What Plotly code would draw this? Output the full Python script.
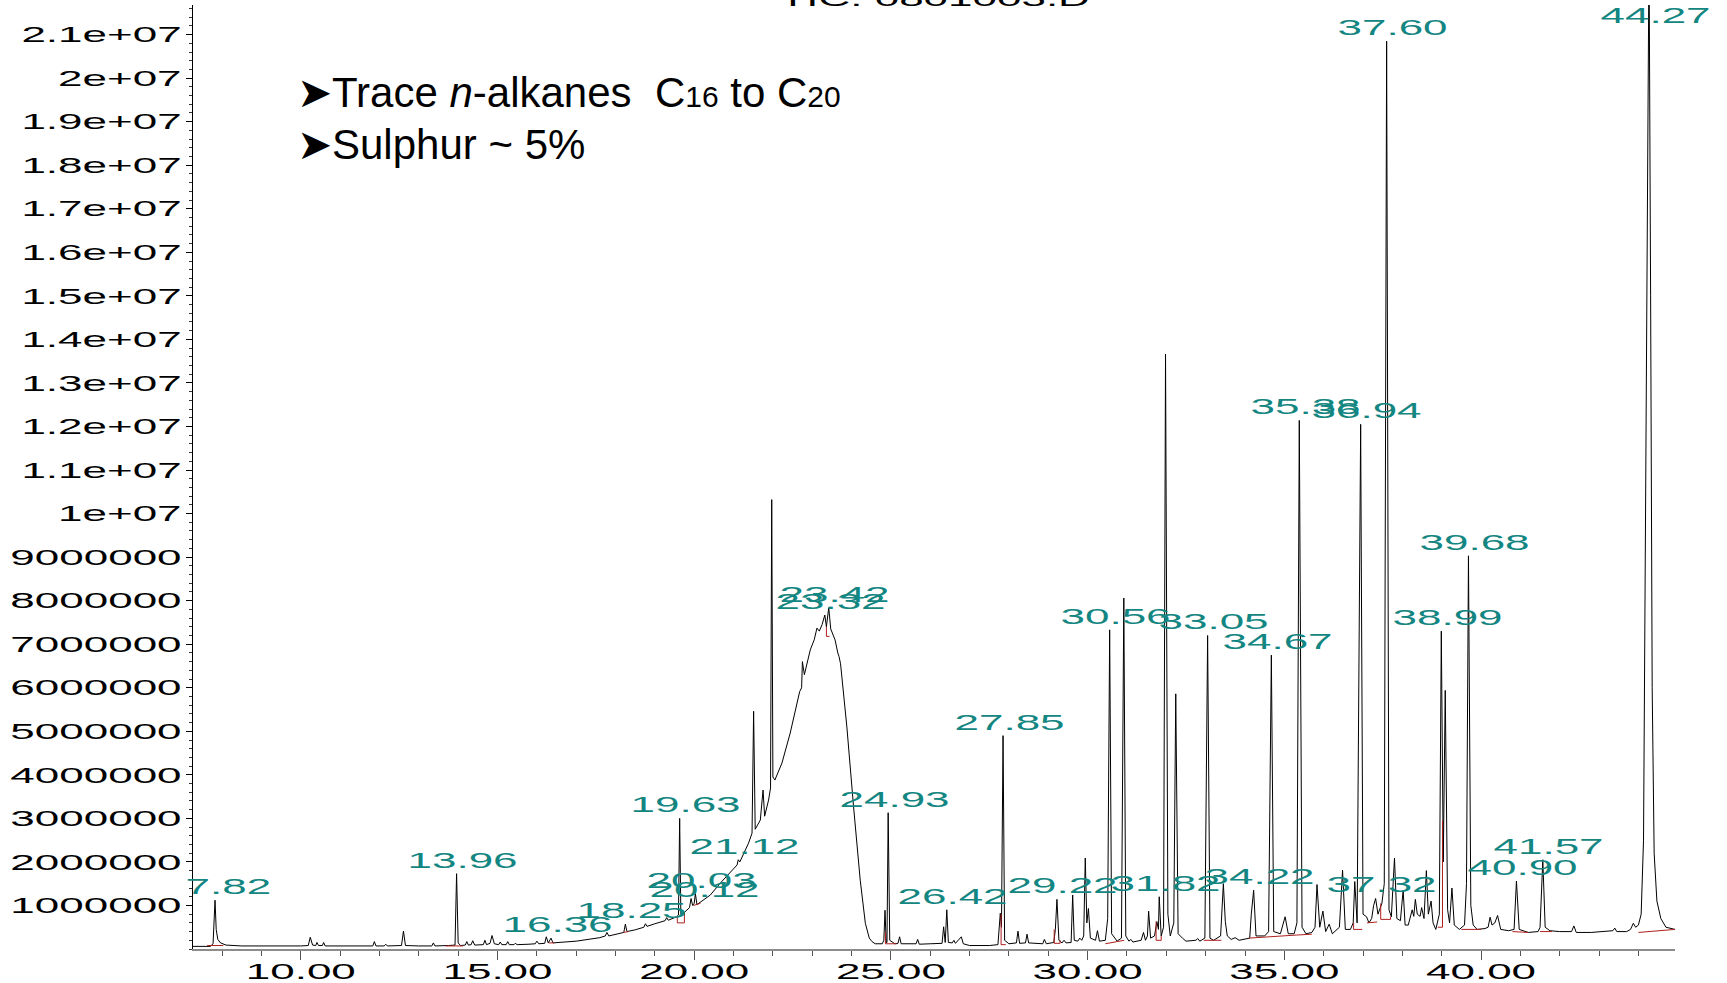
import plotly.graph_objects as go

# ---------------- data ----------------
# Chromatogram trace: retention time (min) and abundance (millions of counts)
rt_min = [
    7.26, 7.70, 7.77, 7.82, 7.85, 7.89, 7.96, 8.10, 8.50, 9.00, 9.50, 10.00,
    10.19, 10.24, 10.30, 10.38, 10.41, 10.45, 10.55, 10.58, 10.62, 11.00, 11.50,
    11.83, 11.87, 11.91, 12.12, 12.16, 12.20, 12.56, 12.61, 12.66, 13.00, 13.33,
    13.37, 13.41, 13.75, 13.92, 13.96, 14.00, 14.06, 14.18, 14.22, 14.26, 14.33,
    14.37, 14.42, 14.64, 14.68, 14.72, 14.81, 14.86, 14.92, 15.03, 15.07, 15.11,
    15.22, 15.26, 15.30, 15.42, 15.45, 15.50, 15.80, 15.96, 16.00, 16.05, 16.20,
    16.24, 16.29, 16.36, 16.41, 16.70, 17.00, 17.30, 17.60, 17.74, 17.78, 17.83,
    18.00, 18.21, 18.25, 18.29, 18.50, 18.72, 18.76, 18.80, 19.00, 19.26, 19.30,
    19.34, 19.55, 19.60, 19.63, 19.66, 19.75, 19.88, 19.92, 19.96, 20.00, 20.03,
    20.07, 20.12, 20.17, 20.41, 20.66, 21.00, 21.09, 21.12, 21.16, 21.38, 21.47,
    21.51, 21.55, 21.68, 21.75, 21.79, 21.89, 21.94, 21.97, 22.00, 22.05, 22.23,
    22.44, 22.68, 22.73, 22.75, 22.80, 22.95, 23.05, 23.12, 23.18, 23.25, 23.32,
    23.36, 23.42, 23.47, 23.58, 23.65, 23.68, 23.72, 23.88, 24.05, 24.22, 24.35,
    24.45, 24.52, 24.60, 24.78, 24.82, 24.85, 24.88, 24.90, 24.93, 24.97, 25.10,
    25.18, 25.22, 25.26, 25.64, 25.68, 25.72, 26.00, 26.30, 26.34, 26.38, 26.42,
    26.46, 26.56, 26.60, 26.64, 26.79, 26.84, 27.00, 27.50, 27.72, 27.78, 27.81,
    27.85, 27.89, 28.00, 28.19, 28.23, 28.27, 28.42, 28.46, 28.50, 28.86, 28.90,
    28.95, 29.14, 29.18, 29.22, 29.27, 29.35, 29.40, 29.45, 29.58, 29.62, 29.66,
    29.75, 29.80, 29.85, 29.90, 29.94, 29.98, 30.02, 30.07, 30.20, 30.25, 30.30,
    30.45, 30.51, 30.56, 30.61, 30.75, 30.86, 30.92, 30.97, 31.05, 31.10, 31.15,
    31.36, 31.42, 31.47, 31.52, 31.55, 31.60, 31.70, 31.76, 31.80, 31.82, 31.87,
    31.93, 31.98, 32.04, 32.10, 32.19, 32.24, 32.30, 32.41, 32.50, 32.75, 32.80,
    32.85, 32.98, 33.05, 33.11, 33.20, 33.38, 33.45, 33.50, 33.55, 33.65, 33.75,
    33.85, 34.12, 34.16, 34.22, 34.28, 34.50, 34.60, 34.67, 34.73, 34.90, 35.02,
    35.10, 35.25, 35.32, 35.38, 35.45, 35.55, 35.70, 35.78, 35.83, 35.90, 35.98,
    36.05, 36.14, 36.22, 36.40, 36.48, 36.55, 36.68, 36.75, 36.79, 36.85, 36.94,
    37.00, 37.09, 37.15, 37.22, 37.27, 37.32, 37.38, 37.48, 37.54, 37.60, 37.66,
    37.72, 37.80, 37.86, 37.95, 38.02, 38.07, 38.15, 38.25, 38.29, 38.33, 38.38,
    38.45, 38.49, 38.55, 38.61, 38.66, 38.73, 38.78, 38.85, 38.94, 38.99, 39.04,
    39.09, 39.15, 39.20, 39.26, 39.32, 39.45, 39.58, 39.63, 39.68, 39.74, 39.80,
    39.90, 40.10, 40.18, 40.23, 40.28, 40.35, 40.42, 40.50, 40.70, 40.84, 40.90,
    40.97, 41.20, 41.45, 41.50, 41.57, 41.63, 41.75, 42.00, 42.30, 42.36, 42.42,
    42.80, 43.10, 43.35, 43.40, 43.45, 43.70, 43.80, 43.87, 43.93, 44.00, 44.07,
    44.13, 44.18, 44.23, 44.27, 44.31, 44.35, 44.40, 44.47, 44.57, 44.70, 44.93,
]
abundance_m = [
    0.06, 0.06, 0.12, 1.12, 0.45, 0.22, 0.14, 0.09, 0.07, 0.07, 0.06, 0.07,
    0.08, 0.27, 0.09, 0.08, 0.15, 0.08, 0.08, 0.15, 0.07, 0.07, 0.06,
    0.07, 0.17, 0.07, 0.07, 0.11, 0.07, 0.08, 0.41, 0.08, 0.07, 0.07,
    0.14, 0.07, 0.08, 0.09, 1.73, 0.14, 0.08, 0.09, 0.17, 0.09, 0.10,
    0.19, 0.09, 0.10, 0.20, 0.10, 0.13, 0.31, 0.12, 0.10, 0.16, 0.10,
    0.10, 0.17, 0.10, 0.10, 0.13, 0.10, 0.11, 0.12, 0.18, 0.12, 0.13,
    0.28, 0.14, 0.25, 0.14, 0.16, 0.18, 0.22, 0.26, 0.30, 0.38, 0.30,
    0.34, 0.38, 0.57, 0.40, 0.44, 0.50, 0.58, 0.52, 0.58, 0.65, 0.72,
    0.66, 0.74, 0.78, 3.00, 0.80, 0.84, 0.95, 1.16, 1.00, 1.05, 1.27,
    1.02, 1.05, 1.08, 1.24, 1.51, 1.85, 1.93, 2.05, 2.00, 2.43, 2.66,
    5.46, 2.75, 2.96, 3.65, 3.05, 3.42, 3.70, 10.32, 3.95, 3.88, 4.27,
    4.96, 5.91, 6.00, 6.60, 6.30, 6.87, 7.10, 7.37, 7.30, 7.45, 7.67,
    7.40, 7.84, 7.35, 7.10, 6.80, 6.72, 6.55, 5.10, 3.27, 1.58, 0.59,
    0.25, 0.17, 0.12, 0.12, 0.20, 0.89, 0.15, 0.15, 3.13, 0.20, 0.12,
    0.13, 0.28, 0.12, 0.12, 0.22, 0.11, 0.12, 0.13, 0.51, 0.15, 0.90,
    0.15, 0.14, 0.20, 0.13, 0.28, 0.12, 0.08, 0.08, 0.10, 0.82, 0.50,
    4.90, 0.20, 0.12, 0.14, 0.41, 0.13, 0.14, 0.34, 0.14, 0.12, 0.22,
    0.12, 0.15, 0.45, 1.14, 0.20, 0.14, 0.20, 0.14, 0.15, 1.24, 0.20,
    0.18, 0.25, 0.20, 0.30, 2.09, 0.60, 0.93, 0.25, 0.20, 0.42, 0.18,
    0.20, 0.70, 7.33, 0.35, 0.18, 0.25, 8.06, 0.30, 0.18, 0.22, 0.16,
    0.20, 0.38, 0.20, 0.30, 0.87, 0.25, 0.30, 0.63, 0.45, 1.20, 0.30,
    0.50, 13.66, 0.80, 0.30, 0.60, 5.86, 0.35, 0.25, 0.18, 0.20, 0.24,
    0.18, 0.25, 7.20, 0.25, 0.20, 0.30, 1.50, 0.63, 0.30, 0.22, 0.26,
    0.20, 0.25, 0.80, 1.35, 0.30, 0.30, 0.40, 6.75, 0.40, 0.35, 0.74,
    0.35, 0.35, 0.60, 12.14, 0.50, 0.35, 0.38, 0.50, 1.48, 0.50, 0.87,
    0.40, 0.57, 0.35, 0.50, 1.81, 0.45, 0.45, 0.60, 1.55, 0.60, 12.05,
    0.80, 0.74, 0.60, 0.70, 1.00, 1.16, 0.80, 1.05, 1.50, 20.85, 0.90,
    0.74, 2.09, 0.70, 0.65, 1.35, 0.55, 0.55, 0.90, 0.75, 1.14, 0.80,
    0.75, 0.95, 0.70, 1.80, 0.80, 1.10, 0.60, 0.45, 0.80, 7.30, 2.00,
    5.94, 0.90, 0.60, 1.40, 0.55, 0.45, 0.55, 1.50, 9.03, 1.00, 0.55,
    0.45, 0.47, 0.50, 0.73, 0.55, 0.60, 0.77, 0.45, 0.42, 0.45, 1.56,
    0.45, 0.38, 0.40, 0.50, 2.05, 0.50, 0.42, 0.40, 0.40, 0.53, 0.38,
    0.38, 0.40, 0.42, 0.48, 0.40, 0.40, 0.45, 0.59, 0.50, 0.55, 0.80,
    2.50, 9.00, 18.00, 23.00, 15.00, 6.00, 2.20, 1.10, 0.70, 0.50, 0.45,
]

# Labelled peaks: retention time (the label text) and apex abundance (millions)
peak_label_rt = [7.82, 13.96, 16.36, 18.25, 19.63, 20.03, 20.12, 21.12, 23.32, 23.42,
                 24.93, 26.42, 27.85, 29.22, 30.56, 31.82, 33.05, 34.22, 34.67, 35.38,
                 36.94, 37.32, 37.60, 38.99, 39.68, 40.90, 41.57, 44.27]
peak_label_apex = [1.12, 1.73, 0.25, 0.57, 3.00, 1.27, 1.05, 2.05, 7.67, 7.84,
                   3.13, 0.90, 4.90, 1.14, 7.33, 1.20, 7.20, 1.35, 6.75, 12.14,
                   12.05, 1.16, 20.85, 7.30, 9.03, 1.56, 2.05, 23.00]

# Integration baselines (red), polylines separated by None
integ_rt = [7.62, 8.03, None, 13.68, 14.12, None, 16.30, 16.45, None, 18.20, 18.33, None,
            19.57, 19.57, 19.75, 19.75, None, 19.98, 20.16, None,
            23.36, 23.36, 23.44, None, 24.86, 24.86, 25.15, None,
            27.80, 27.80, 27.92, None, 29.15, 29.15, 29.30, 29.30, None,
            30.45, 30.93, None, 31.74, 31.74, 31.87, 31.87, None, 32.95, 33.40, None,
            34.10, 35.30, None, 35.30, 35.70, None, 36.76, 36.76, 36.98, None,
            37.10, 37.36, None, 37.45, 37.45, 37.70, 37.70, None,
            38.90, 39.02, 39.02, None, 39.50, 40.00, None, 40.80, 41.20, None,
            41.50, 41.80, None, 44.00, 44.93]
integ_level = [0.08, 0.08, None, 0.07, 0.07, None, 0.14, 0.14, None, 0.38, 0.40, None,
               0.74, 0.60, 0.60, 0.84, None, 1.00, 1.05, None,
               7.40, 7.18, 7.18, None, 0.40, 0.12, 0.12, None,
               0.80, 0.10, 0.10, None, 0.45, 0.13, 0.13, 0.20, None,
               0.12, 0.20, None, 0.63, 0.20, 0.20, 0.30, None, 0.20, 0.20, None,
               0.25, 0.32, None, 0.32, 0.34, None, 0.60, 0.45, 0.45, None,
               0.60, 0.62, None, 1.05, 0.68, 0.68, 0.74, None,
               0.50, 0.50, 2.95, None, 0.45, 0.45, None, 0.40, 0.38, None,
               0.40, 0.40, None, 0.38, 0.45]

y_tick_values = list(range(1, 22))
y_tick_labels = ["1000000", "2000000", "3000000", "4000000", "5000000", "6000000",
                 "7000000", "8000000", "9000000", "1e+07", "1.1e+07", "1.2e+07",
                 "1.3e+07", "1.4e+07", "1.5e+07", "1.6e+07", "1.7e+07", "1.8e+07",
                 "1.9e+07", "2e+07", "2.1e+07"]

title_text = "TIC: 0801003.D"
note_lines = ["➤Trace <i>n</i>-alkanes \u00a0C<span style='font-size:30px'>16</span> to C<span style='font-size:30px'>20</span>",
              "➤Sulphur ~ 5%"]

# ---------------- figure ----------------
X_MIN, X_MAX = 7.26, 44.93
Y_MIN, Y_MAX = 0.0, 21.68
TEAL = "#138682"
TICK_FONT = dict(family="Liberation Sans, Arial, sans-serif", size=22, color="black")

fig = go.Figure()
fig.add_trace(go.Scatter(x=rt_min, y=abundance_m, mode="lines",
                         line=dict(color="black", width=1), hoverinfo="skip",
                         showlegend=False))
fig.add_trace(go.Scatter(x=integ_rt, y=integ_level, mode="lines",
                         line=dict(color="#b01e1e", width=1), hoverinfo="skip",
                         connectgaps=False, showlegend=False))

annotations = []
for rt_, apex in zip(peak_label_rt, peak_label_apex):
    annotations.append(dict(
        x=max(rt_, X_MIN + 0.75), y=min(apex, Y_MAX - 0.55),
        xref="x", yref="y", text=f"{rt_:.2f}", showarrow=False,
        xanchor="center", yanchor="bottom", xshift=6, yshift=-1,
        font=dict(family="Liberation Sans, Arial, sans-serif", size=22, color=TEAL)))

annotations.append(dict(x=0.5, y=1, xref="paper", yref="paper", text=title_text,
                        showarrow=False, xanchor="center", yanchor="bottom", yshift=-8,
                        font=dict(family="Liberation Sans, Arial, sans-serif", size=22, color="black")))

NOTE_FONT = dict(family="Liberation Sans Narrow, Arial Narrow, Liberation Sans, sans-serif",
                 size=42, color="black")
for line, yv in zip(note_lines, [19.66, 18.47]):
    annotations.append(dict(x=9.86, y=yv, xref="x", yref="y", text=line, showarrow=False,
                            xanchor="left", yanchor="middle", font=NOTE_FONT))

fig.update_layout(
    width=1727, height=983,
    margin=dict(l=193, r=52, t=5, b=34, pad=0, autoexpand=False),
    paper_bgcolor="white", plot_bgcolor="white",
    showlegend=False,
    annotations=annotations,
    xaxis=dict(range=[X_MIN, X_MAX], tickmode="linear", tick0=0, dtick=5,
               tickformat=".2f", ticks="outside", ticklen=9, tickwidth=1,
               tickcolor="#555555", showline=True, linecolor="#8c8c8c", linewidth=2,
               showgrid=False, zeroline=False, tickfont=TICK_FONT, automargin=False,
               ticklabelstandoff=-7,
               minor=dict(dtick=1, tick0=0, ticks="outside", ticklen=5,
                          tickcolor="#555555", showgrid=False)),
    yaxis=dict(range=[Y_MIN, Y_MAX], tickmode="array", tickvals=y_tick_values,
               ticktext=y_tick_labels, ticks="outside", ticklen=6, tickwidth=1,
               tickcolor="black", showline=True, linecolor="black", linewidth=1,
               showgrid=False, zeroline=False, tickfont=TICK_FONT, automargin=False,
               minor=dict(dtick=0.2, tick0=0, ticks="outside", ticklen=3,
                          tickcolor="#333333", showgrid=False)),
)

# The page body gets no default margin, and the reference's widened label face is
# imitated by widening the rendered label text horizontally.
post_js = """
(function(){
  document.body.style.margin = '0';
  document.body.style.overflow = 'hidden';
  var gd = document.getElementById('{plot_id}');
  function stretch(t, s){
    var cur = t.getAttribute('transform') || '';
    if (t.__stretched === cur) return;
    var b = t.getBBox();
    var a = t.getAttribute('text-anchor') || 'start';
    var ax = a === 'end' ? b.x + b.width : (a === 'middle' ? b.x + b.width / 2 : b.x);
    var nt = cur + ' translate(' + ax + ',0) scale(' + s + ',1) translate(' + (-ax) + ',0)';
    t.setAttribute('transform', nt);
    t.__stretched = nt;
  }
  function applyAll(){
    gd.querySelectorAll('.xtick text, .ytick text').forEach(function(t){ stretch(t, 2.0); });
    gd.querySelectorAll('.annotation-text').forEach(function(t){
      var s = (t.textContent || '').trim();
      if (/^\\d+\\.\\d\\d$/.test(s) || s.indexOf('TIC') === 0) stretch(t, 2.0);
    });
  }
  applyAll();
  if (gd.on) gd.on('plotly_afterplot', applyAll);
})();
"""

fig.write_html("out.html", post_script=post_js, config={"displayModeBar": False})
